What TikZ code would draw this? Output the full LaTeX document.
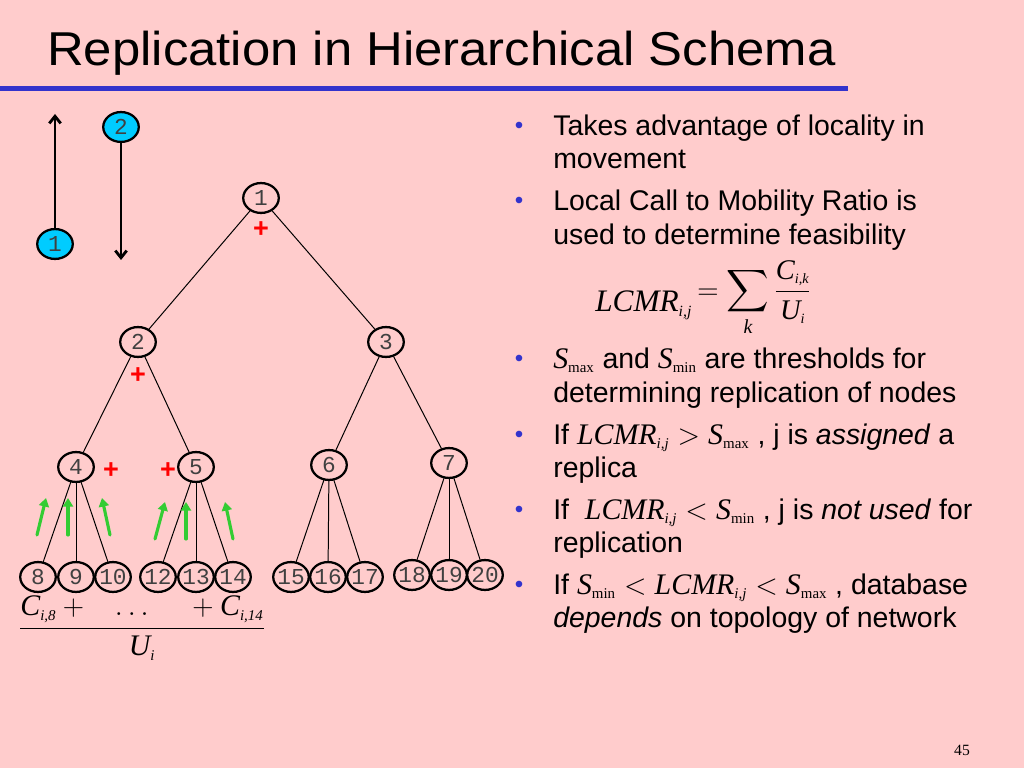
\documentclass[tikz,border=0pt]{standalone}
\usepackage{amsmath}
\usepackage{fontspec}
\setmainfont{Liberation Sans}
\newfontfamily\tnr{Liberation Serif}
\newfontfamily\cour{Liberation Mono}
\usetikzlibrary{shapes.geometric,arrows.meta,positioning}
\definecolor{slidebg}{RGB}{255,204,204}
\definecolor{rulecol}{RGB}{51,51,204}
\definecolor{cyannode}{RGB}{0,204,255}
\definecolor{greenarr}{RGB}{51,204,51}
\newcommand{\mi}[1]{\text{\tnr\itshape #1}} % Times italic letters
\newcommand{\up}[1]{\text{\tnr #1}}
\newcommand{\lo}[1]{_{\scriptscriptstyle #1}} % small index
\newcommand{\fm}[1]{{\fontsize{21}{21}\selectfont$#1$}} % formula in lines
\tikzset{
  knot/.style={ellipse, draw, line width=1.6pt, minimum width=25pt, minimum height=21pt, inner xsep=-1.5pt, inner ysep=0pt, font=\cour\fontsize{16}{16}\selectfont, text=black!75},
  moving/.style={knot, fill=cyannode},
  plusmark/.style={text=red, font=\bfseries\fontsize{19}{19}\selectfont},
  txt/.style={anchor=base west, inner sep=0pt, font=\fontsize{20}{24}\selectfont},
  bul/.style={anchor=base, inner sep=0pt, text=rulecol, font=\fontsize{17}{17}\selectfont},
}
\begin{document}
\begin{tikzpicture}[x=0.703125pt, y=-0.703125pt, line join=round, line cap=round, >={Straight Barb[length=5pt,width=8pt]}]
	\fill[slidebg] (0,0) rectangle (1024,768);
	\useasboundingbox (0,0) rectangle (1024,768);
	% tieu de
	\node[anchor=base west, inner sep=0pt, font=\fontsize{33.4}{34}\selectfont] (title) at (47,66) {\scalebox{1.07}[1]{Replication in Hierarchical Schema}};
	\fill[rulecol] (0,86) rectangle (848,91);
	% hai nut di chuyen
	\node[moving] (m1) at (55,244) {1};
	\node[moving] (m2) at (121,127) {2};
	\coordinate (up) at (55,114);
	\coordinate (down) at (121,260);
	\draw[->, line width=2pt] (m1)--(up);
	\draw[->, line width=2pt] (m2)--(down);
	% cay
	\node[knot] (n1) at (261,198) {1};
	\node[knot] (n2) at (138,342) {2};
	\node[knot] (n3) at (386,342) {3};
	\node[knot] (n4) at (76,467) {4};
	\node[knot] (n5) at (196,467) {5};
	\node[knot] (n6) at (329,465) {6};
	\node[knot] (n7) at (449,463) {7};
	\foreach \k/\x/\y in {8/38/577,9/76/577,10/113/577,12/158/577,13/196/577,14/233/577,15/291/577,16/328/577,17/365/577,18/412/575,19/449/575,20/485/575}
		\node[knot] (n\k) at (\x,\y) {\k};
	\foreach \a/\b in {1/2,1/3,2/4,2/5,3/6,3/7,4/8,4/9,4/10,5/12,5/13,5/14,6/15,6/16,6/17,7/18,7/19,7/20}
		\draw[line width=0.7pt] (n\a)--(n\b);
	\node[plusmark] (p1) at (261,230) {+};
	\node[plusmark] (p2) at (138,376) {+};
	\node[plusmark] (p4) at (111,471) {+};
	\node[plusmark] (p5) at (168,471) {+};
	% mui ten xanh
	\foreach \xa/\ya/\xb/\yb in {37/535/46/498, 68/535/68/498, 110/535/102/498, 155/539/165/502, 186/539/186/502, 233/539/225/502}
		\draw[-{Triangle[length=6pt,width=7pt]}, greenarr, line width=2.2pt] (\xa,\ya)--(\xb,\yb);
	\node[font=\fontsize{21}{21}\selectfont] (ratio) at (142,628) {$\dfrac{\mi{C}\lo{\mi{i,8}}+\hspace{17pt}\dots\hspace{26pt}+\mi{C}\lo{\mi{i,14}}}{\mi{U}\lo{\mi{i}}}$};
	% cot phai
	\foreach \b/\y in {b1/134,b2/209,b3/366,b4/442,b5/517,b6/592}
		\node[bul] (\b) at (519,\y) {\textbullet};
	\node[txt] (l1) at (553,136) {Takes advantage of locality in};
	\node[txt] (l2) at (553,169) {movement};
	\node[txt] (l3) at (553,211) {Local Call to Mobility Ratio is};
	\node[txt] (l4) at (553,245) {used to determine feasibility};
	\node[txt, font=\fontsize{22}{22}\selectfont] (lcmr) at (595,312) {$\mi{LCMR}\lo{\mi{i,j}}$};
	\node[anchor=base west, inner sep=0pt, font=\fontsize{20}{20}\selectfont] (sum) at (697,299) {$=\displaystyle\sum_{\mi{k}}\frac{\mi{C}\lo{\mi{i,k}}}{\mi{U}\lo{\mi{i}}}$};
	\node[txt] (l5) at (553,368) {\fm{\mi{S}\lo{\up{max}}} and \fm{\mi{S}\lo{\up{min}}} are thresholds for};
	\node[txt] (l6) at (553,402) {determining replication of nodes};
	\node[txt] (l7) at (553,444) {If \fm{\mi{LCMR}\lo{\mi{i,j}}>\mi{S}\lo{\up{max}}} , j is \textit{assigned} a};
	\node[txt] (l8) at (553,477) {replica};
	\node[txt] (l9) at (553,519) {If \ \fm{\mi{LCMR}\lo{\mi{i,j}}<\mi{S}\lo{\up{min}}} , j is \textit{not used} for};
	\node[txt] (l10) at (553,552) {replication};
	\node[txt] (l11) at (553,594) {If \fm{\mi{S}\lo{\up{min}}<\mi{LCMR}\lo{\mi{i,j}}<\mi{S}\lo{\up{max}}} , database};
	\node[txt] (l12) at (553,627) {\textit{depends} on topology of network};
	\node[font=\tnr\fontsize{11}{11}\selectfont] (pg) at (962,750) {45};
\end{tikzpicture}
\end{document}
